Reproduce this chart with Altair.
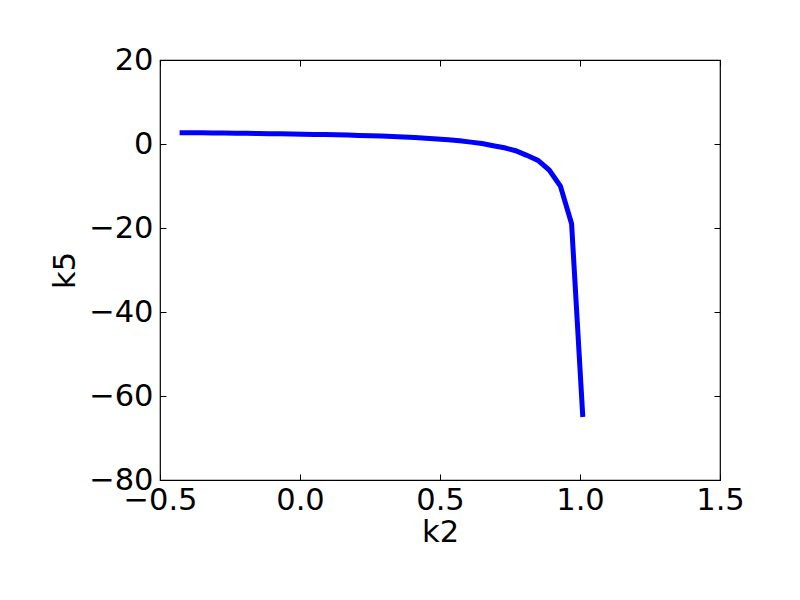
import altair as alt
import pandas as pd

k2 = [-0.43, -0.39, -0.35, -0.31, -0.27, -0.23, -0.19, -0.15, -0.11, -0.07,
      -0.03, 0.01, 0.05, 0.09, 0.13, 0.17, 0.21, 0.25, 0.29, 0.33,
      0.37, 0.41, 0.45, 0.49, 0.53, 0.57, 0.61, 0.65, 0.69, 0.73,
      0.77, 0.81, 0.85, 0.89, 0.93, 0.97, 1.01]
k5 = [2.7, 2.68, 2.65, 2.62, 2.6, 2.57, 2.54, 2.5, 2.47, 2.43,
      2.38, 2.34, 2.29, 2.24, 2.18, 2.12, 2.05, 1.97, 1.88, 1.78,
      1.66, 1.52, 1.38, 1.2, 1.0, 0.75, 0.45, 0.1, -0.4, -0.9,
      -1.6, -2.7, -3.9, -6.2, -10.0, -19.0, -65.0]

x_ticks = [-0.5, 0.0, 0.5, 1.0, 1.5]
y_ticks = [-80, -60, -40, -20, 0, 20]

df = pd.DataFrame({"k2": k2, "k5": k5})

FONT = "DejaVu Sans"
FS = 30.5
xs = alt.Scale(domain=[-0.5, 1.5], nice=False, zero=False)
ys = alt.Scale(domain=[-80, 20], nice=False, zero=False)

base = alt.Chart(df)

main = base.mark_line(color="#0000ff", strokeWidth=5, clip=True).encode(
    x=alt.X("k2:Q", scale=xs, axis=alt.Axis(
        values=x_ticks, format=".1f", title="k2", ticks=False, domain=False,
        labelFontSize=FS, titleFontSize=FS, labelPadding=5, titlePadding=2,
        labelFont=FONT, titleFont=FONT, titleFontWeight="normal",
        labelColor="black", titleColor="black", grid=False, labelFlush=False)),
    y=alt.Y("k5:Q", scale=ys, axis=alt.Axis(
        values=y_ticks, format="d", title="k5", ticks=False, domain=False,
        labelFontSize=FS, titleFontSize=FS, labelPadding=7, titlePadding=8,
        labelFont=FONT, titleFont=FONT, titleFontWeight="normal",
        labelColor="black", titleColor="black", grid=False, labelFlush=False)),
)

tick_bl = base.mark_point(opacity=0).encode(
    x=alt.X("k2:Q", scale=xs, axis=alt.Axis(
        values=x_ticks, labels=False, title=None, domain=False, grid=False,
        ticks=True, tickSize=6, offset=-6, tickColor="black", tickWidth=1)),
    y=alt.Y("k5:Q", scale=ys, axis=alt.Axis(
        values=y_ticks, labels=False, title=None, domain=False, grid=False,
        ticks=True, tickSize=6, offset=-6, tickColor="black", tickWidth=1)),
)

tick_tr = base.mark_point(opacity=0).encode(
    x=alt.X("k2:Q", scale=xs, axis=alt.Axis(
        orient="top", values=x_ticks, labels=False, title=None, domain=False,
        grid=False, ticks=True, tickSize=6, offset=-6, tickColor="black", tickWidth=1)),
    y=alt.Y("k5:Q", scale=ys, axis=alt.Axis(
        orient="right", values=y_ticks, labels=False, title=None, domain=False,
        grid=False, ticks=True, tickSize=6, offset=-6, tickColor="black", tickWidth=1)),
)

chart = alt.layer(tick_bl, tick_tr, main).resolve_axis(
    x="independent", y="independent"
).properties(
    width=560, height=420,
    background="white",
    autosize=alt.AutoSizeParams(type="none"),
    padding={"left": 152, "top": 52, "right": 72, "bottom": 112},
).configure_view(stroke="black", strokeWidth=1.2, strokeOpacity=1)

chart.save("out.html", embed_options={"renderer": "svg", "actions": False})
